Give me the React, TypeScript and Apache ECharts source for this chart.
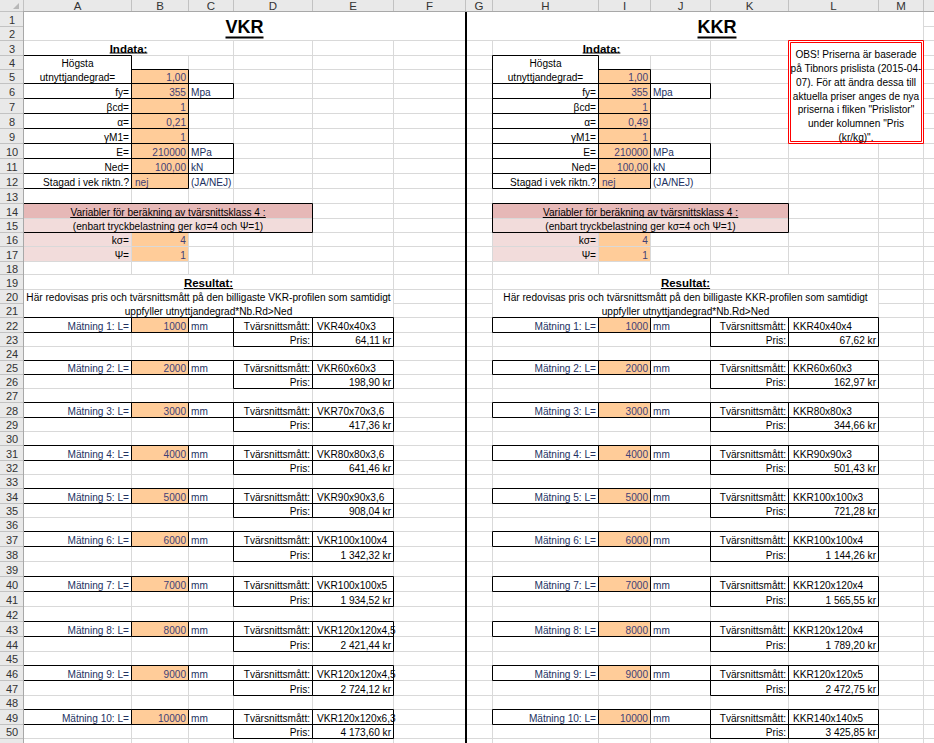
import React, { useEffect, useRef } from 'react';
import * as echarts from 'echarts';

// ---------------- data ----------------
const columnLetters = ['A', 'B', 'C', 'D', 'E', 'F', 'G', 'H', 'I', 'J', 'K', 'L', 'M'];
const inputLabels = ['fy=', 'βcd=', 'α=', 'γM1=', 'E=', 'Ned=', 'Stagad i vek riktn.?'];
const inputUnits = ['Mpa', '', '', '', 'MPa', 'kN', '(JA/NEJ)'];
const vkrInputs = ['1,00', '355', '1', '0,21', '1', '210000', '100,00', 'nej'];
const kkrInputs = ['1,00', '355', '1', '0,49', '1', '210000', '100,00', 'nej'];
const classLabels = ['kσ=', 'Ψ='];
const vkrClassValues = ['4', '1'];
const kkrClassValues = ['4', '1'];
const measurementLengths = [1000, 2000, 3000, 4000, 5000, 6000, 7000, 8000, 9000, 10000];
const vkrProfiles = ['VKR40x40x3', 'VKR60x60x3', 'VKR70x70x3,6', 'VKR80x80x3,6', 'VKR90x90x3,6', 'VKR100x100x4', 'VKR100x100x5', 'VKR120x120x4,5', 'VKR120x120x4,5', 'VKR120x120x6,3'];
const vkrPrices = [64.11, 198.9, 417.36, 641.46, 908.04, 1342.32, 1934.52, 2421.44, 2724.12, 4173.6];
const kkrProfiles = ['KKR40x40x4', 'KKR60x60x3', 'KKR80x80x3', 'KKR90x90x3', 'KKR100x100x3', 'KKR100x100x4', 'KKR120x120x4', 'KKR120x120x4', 'KKR120x120x5', 'KKR140x140x5'];
const kkrPrices = [67.62, 162.97, 344.66, 501.43, 721.28, 1144.26, 1565.55, 1789.2, 2472.75, 3425.85];
const noteLines = ['OBS! Priserna är baserade', 'på Tibnors prislista (2015-04-', '07). För att ändra dessa till', 'aktuella priser anges de nya', 'priserna i fliken "Prislistor"', 'under kolumnen "Pris', '(kr/kg)".'];

// ---------------- layout ----------------
const W = 934;
const H = 743;
const COL_LINES = [23, 131, 188, 233, 312, 393, 465, 492, 598, 650, 710, 788, 878, 923, 934];
const ROW_LINES = [11, 26, 40, 55, 69, 83, 98, 113, 128, 143, 158, 173, 188, 203, 218, 232, 246, 261, 274, 289, 303, 317, 332, 346, 360, 374, 388, 402, 417, 431, 445, 460, 474, 488, 503, 517, 531, 546, 561, 576, 591, 606, 621, 636, 651, 665, 680, 695, 709, 724, 738, 753];

const GRID = '#d9d9d9';
const ORANGE = '#FFCC99';
const PINK_DARK = '#E6B8B7';
const PINK_LIGHT = '#F2DCDB';
const INPUT_TXT = '#3F3F76';
const NAVY = '#22315f';
const FAMILY = '"Liberation Sans"';
const SX = 0.92;

function fmtPrice(v: number) {
  const [i, d] = v.toFixed(2).split('.');
  return i.replace(/\B(?=(\d{3})+(?!\d))/g, ' ') + ',' + d + ' kr';
}

function makeMeasure() {
  const ctx = document.createElement('canvas').getContext('2d') as CanvasRenderingContext2D;
  const width = (s: string, size: number, bold: boolean, fam: string) => {
    ctx.font = `${bold ? 'bold ' : ''}${size}px ${fam}`;
    return ctx.measureText(s).width;
  };
  return { width };
}

function build() {
  const m = makeMeasure();
  const els: any[] = [];
  const add = (el: any, z: number) => { el.z = z; el.silent = true; els.push(el); };
  const cell = (c1: number, r1: number, c2 = c1, r2 = r1) => ({ L: COL_LINES[c1], R: COL_LINES[c2 + 1], T: ROW_LINES[r1 - 1], B: ROW_LINES[r2] });
  const fill = (b: any, color: string, z = 3) => add({ type: 'rect', shape: { x: b.L + 1, y: b.T + 1, width: b.R - b.L - 1, height: b.B - b.T - 1 }, style: { fill: color } }, z);
  const stroke = (b: any, color = '#000', z = 4) => add({ type: 'rect', shape: { x: b.L + 0.5, y: b.T + 0.5, width: b.R - b.L, height: b.B - b.T }, style: { fill: 'none', stroke: color, lineWidth: 1 } }, z);
  const line = (x1: number, y1: number, x2: number, y2: number, color: string, z: number, lw = 1) => add({ type: 'line', shape: { x1, y1, x2, y2 }, style: { stroke: color, lineWidth: lw } }, z);
  const text = (str: string, x: number, y: number, align: string, o: any = {}) => {
    const size = o.size ?? 11;
    const bold = !!o.bold;
    const fam = o.family ?? FAMILY;
    const sx = o.sx ?? (bold || o.family ? 1 : SX);
    const z = o.z ?? 5;
    add({ type: 'text', x, y, scaleX: sx, style: { text: str, x: 0, y: 0, align, verticalAlign: 'middle', fontSize: size, fontFamily: fam, fontWeight: bold ? 'bold' : 'normal', fill: o.color ?? '#000' } }, z);
    if (o.underline) {
      const w = m.width(str, size, bold, fam) * sx;
      const x1 = align === 'center' ? x - w / 2 : align === 'right' ? x - w : x;
      const th = o.underline;
      const uy = o.uy ?? Math.round(y + size * 0.38 + 1);
      add({ type: 'rect', shape: { x: x1, y: uy, width: w, height: th }, style: { fill: o.color ?? '#000' } }, z);
    }
  };
  const cy = (r1: number, r2 = r1) => (ROW_LINES[r1 - 1] + 1 + ROW_LINES[r2]) / 2 + 0.5;
  const cx = (c1: number, c2 = c1) => (COL_LINES[c1] + 1 + COL_LINES[c2 + 1]) / 2;
  const rightX = (c: number) => COL_LINES[c + 1] - 2;
  const leftX = (c: number, pad = 3) => COL_LINES[c] + pad;

  // background
  add({ type: 'rect', shape: { x: 0, y: 0, width: W, height: H }, style: { fill: '#fff' } }, 0);

  // gridlines
  COL_LINES.forEach((p) => line(p + 0.5, ROW_LINES[0], p + 0.5, H, GRID, 1));
  ROW_LINES.forEach((p) => line(COL_LINES[0], p + 0.5, W, p + 0.5, GRID, 1));

  // merged covers (common)
  const covers: number[][] = [
    [0, 1, 5, 2], [6, 1, 12, 2], [11, 3, 12, 9],
  ];

  const side = (o: number, title: string, titleX: number, inputs: string[], classVals: string[], profiles: string[], prices: number[], kind: string) => {
    covers.push([o + 0, 3, o + 2, 3], [o + 0, 4, o + 0, 5], [o + 0, 14, o + 3, 14], [o + 0, 15, o + 3, 15], [o + 0, 19, o + 4, 19], [o + 0, 20, o + 4, 21]);
    // title
    text(title, titleX, 27, 'center', { bold: true, size: 18, underline: 2, uy: 36.5 });
    text('Indata:', cx(o, o + 2), cy(3), 'center', { bold: true, size: 11.5, underline: 1, uy: 52.5 });
    // inputs
    stroke(cell(o, 4, o, 5));
    text('Högsta', cx(o), cy(4), 'center');
    text('utnyttjandegrad=', cx(o), cy(5), 'center');
    for (let i = 0; i < inputs.length; i++) {
      const r = 5 + i;
      fill(cell(o + 1, r), ORANGE);
      stroke(cell(o + 1, r));
      const isText = i === inputs.length - 1;
      text(inputs[i], isText ? leftX(o + 1, 4) : rightX(o + 1), cy(r), isText ? 'left' : 'right', { color: INPUT_TXT });
      if (i >= 1) {
        const lab = inputLabels[i - 1];
        stroke(cell(o, r));
        text(lab, rightX(o), cy(r), 'right');
        const unit = inputUnits[i - 1];
        if (unit) {
          if (i - 1 !== inputUnits.length - 1) stroke(cell(o + 2, r));
          text(unit, leftX(o + 2), cy(r), 'left', { color: NAVY });
        }
      }
    }
    // class 4 block
    fill(cell(o, 14, o + 3, 14), PINK_DARK);
    fill(cell(o, 15, o + 3, 15), PINK_LIGHT);
    stroke(cell(o, 14, o + 3, 15));
    text('Variabler för beräkning av tvärsnittsklass 4 :', cx(o, o + 3), cy(14), 'center', { underline: 1 });
    text('(enbart tryckbelastning ger kσ=4 och Ψ=1)', cx(o, o + 3), cy(15), 'center');
    for (let i = 0; i < classLabels.length; i++) {
      const r = 16 + i;
      fill(cell(o, r), PINK_LIGHT);
      fill(cell(o + 1, r), ORANGE);
      text(classLabels[i], rightX(o), cy(r), 'right');
      text(classVals[i], rightX(o + 1), cy(r), 'right', { color: INPUT_TXT });
    }
    // results
    text('Resultat:', cx(o, o + 4), cy(19), 'center', { bold: true, size: 11.5, underline: 1 });
    text(`Här redovisas pris och tvärsnittsmått på den billigaste ${kind}-profilen som samtidigt`, cx(o, o + 4), cy(20), 'center');
    text('uppfyller utnyttjandegrad*Nb.Rd>Ned', cx(o, o + 4), cy(21), 'center');
    for (let k = 0; k < measurementLengths.length; k++) {
      const r = 22 + 3 * k;
      fill(cell(o + 1, r), ORANGE);
      [0, 1, 2, 3, 4].forEach((c) => stroke(cell(o + c, r)));
      stroke(cell(o + 3, r + 1));
      stroke(cell(o + 4, r + 1));
      text(`Mätning ${k + 1}: L=`, rightX(o), cy(r), 'right', { color: NAVY });
      text(String(measurementLengths[k]), rightX(o + 1), cy(r), 'right', { color: INPUT_TXT });
      text('mm', leftX(o + 2), cy(r), 'left', { color: NAVY });
      text('Tvärsnittsmått:', rightX(o + 3), cy(r), 'right');
      text(profiles[k], leftX(o + 4, 5), cy(r), 'left');
      text('Pris:', rightX(o + 3), cy(r + 1), 'right');
      text(fmtPrice(prices[k]), rightX(o + 4), cy(r + 1), 'right');
    }
  };

  side(0, 'VKR', 244.5, vkrInputs, vkrClassValues, vkrProfiles, vkrPrices, 'VKR');
  side(7, 'KKR', 717, kkrInputs, kkrClassValues, kkrProfiles, kkrPrices, 'KKR');

  covers.forEach(([c1, r1, c2, r2]) => {
    const b = cell(c1, r1, c2, r2);
    add({ type: 'rect', shape: { x: b.L + 1, y: b.T + 1, width: b.R - b.L - 1, height: b.B - b.T - 1 }, style: { fill: '#fff' } }, 2);
  });

  // note box (double red border)
  add({ type: 'rect', shape: { x: 788.5, y: 40.5, width: 135, height: 103 }, style: { fill: 'none', stroke: '#ff0000', lineWidth: 1 } }, 4);
  add({ type: 'rect', shape: { x: 790.5, y: 42.5, width: 131, height: 99 }, style: { fill: 'none', stroke: '#ff0000', lineWidth: 1 } }, 4);
  noteLines.forEach((s, i) => text(s, 856, 54 + i * 13.8, 'center'));

  // thick separator
  add({ type: 'rect', shape: { x: 465, y: ROW_LINES[0], width: 2, height: H - ROW_LINES[0] }, style: { fill: '#000' } }, 6);

  // headers
  const HB = '#e9e9e9';
  const HL = '#c2c2c2';
  add({ type: 'rect', shape: { x: 0, y: 0, width: W, height: ROW_LINES[0] }, style: { fill: HB } }, 7);
  add({ type: 'rect', shape: { x: 0, y: ROW_LINES[0], width: COL_LINES[0], height: H - ROW_LINES[0] }, style: { fill: HB } }, 7);
  line(0, ROW_LINES[0] + 0.5, W, ROW_LINES[0] + 0.5, '#a8a8a8', 8);
  line(COL_LINES[0] + 0.5, 0, COL_LINES[0] + 0.5, H, '#a8a8a8', 8);
  COL_LINES.forEach((p) => line(p + 0.5, 0, p + 0.5, ROW_LINES[0], HL, 8));
  ROW_LINES.forEach((p) => line(0, p + 0.5, COL_LINES[0], p + 0.5, HL, 8));
  add({ type: 'polygon', shape: { points: [[19, 3], [19, 9], [13, 9]] }, style: { fill: '#b8b8b8' } }, 8);
  columnLetters.forEach((l, i) => text(l, cx(i), 6, 'center', { family: FAMILY, size: 11.5, color: '#333', z: 9 }));
  for (let r = 1; r <= 50; r++) {
    text(String(r), COL_LINES[0] / 2 + 0.5, cy(r), 'center', { family: FAMILY, size: 11, color: '#333', z: 9 });
  }
  return els;
}

export default function App() {
  const ref = useRef<HTMLDivElement>(null);
  useEffect(() => {
    if (!ref.current) return;
    const chart = echarts.init(ref.current, undefined, { renderer: 'svg' });
    chart.setOption({ animation: false, graphic: { elements: build() } });
    return () => chart.dispose();
  }, []);
  return <div ref={ref} style={{ position: 'fixed', left: 0, top: 0, width: W, height: H, background: '#fff' }} />;
}
